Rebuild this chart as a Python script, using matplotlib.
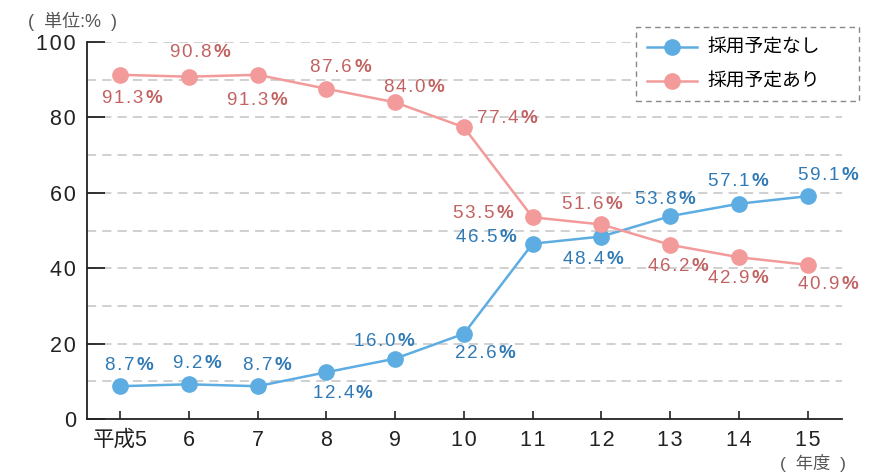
import matplotlib
matplotlib.use("Agg")
import matplotlib.pyplot as plt
from matplotlib.lines import Line2D
from matplotlib.patches import Rectangle

plt.rcParams['font.family'] = ['Liberation Sans', 'Noto Sans CJK JP', 'DejaVu Sans']

years = ['平成5', '6', '7', '8', '9', '10', '11', '12', '13', '14', '15']
no_plan = [8.7, 9.2, 8.7, 12.4, 16.0, 22.6, 46.5, 48.4, 53.8, 57.1, 59.1]
plan = [91.3, 90.8, 91.3, 87.6, 84.0, 77.4, 53.5, 51.6, 46.2, 42.9, 40.9]
series_names = ['採用予定なし', '採用予定あり']
y_ticks = [0, 20, 40, 60, 80, 100]

# label offsets in pixels (dx, dy) for label centre
no_plan_off = [(10, 21), (9, 21), (10, 21), (17, -21), (-10, 17), (22, -20),
               (-46, 6), (-8, -23), (-4, 17), (0, 22), (21, 21)]
plan_off = [(13, -24), (12, 24), (0, -26), (15, 21), (20, 15), (44, 9),
            (-49, 4), (-9, 20), (9, -22), (0, -21), (21, -20)]

blue_line = '#5dade2'
blue_text = '#2f79b5'
pink_line = '#f39a9a'
pink_text = '#c26262'
TS = '\u200a'


def spaced(s):
    return TS.join(s)


def sp_label(s):
    out = ''
    for i, ch in enumerate(s):
        if i > 0 and ch.isascii() and s[i - 1].isascii():
            out += TS
        out += ch
    return out


fig = plt.figure(figsize=(8.69, 4.74), dpi=100)
ax = fig.add_axes([87/869, 1-419/474, (842-87)/869, (419-42)/474])

x = list(range(len(years)))
ax.plot(x, no_plan, color=blue_line, lw=1.8, marker='o', ms=11, clip_on=False, zorder=3)
ax.plot(x, plan, color=pink_line, lw=1.8, marker='o', ms=11, clip_on=False, zorder=3)

FS = 13.5


def add_label(xi, v, dx, dy, color):
    t = ax.annotate(spaced(f"{v:.1f}"), (xi, v), xytext=(dx - 10, dy), textcoords='offset pixels',
                    ha='center', va='center', color=color, fontsize=FS, zorder=4)
    ax.annotate('%', xy=(1, 0.5), xycoords=t, xytext=(2, 0), textcoords='offset pixels',
                ha='left', va='center', color=color, fontsize=FS, fontweight='bold', zorder=4)


for xi, v, (dx, dy) in zip(x, no_plan, no_plan_off):
    add_label(xi, v, dx, dy, blue_text)
for xi, v, (dx, dy) in zip(x, plan, plan_off):
    add_label(xi, v, dx, dy, pink_text)

ax.set_xlim(-0.48, 10.5)
ax.set_ylim(0, 100)
ax.set_xticks(x)
ax.set_xticklabels([sp_label(s) for s in years])
ax.set_yticks(y_ticks)
ax.set_yticklabels([spaced(str(v)) for v in y_ticks])
for g in range(10, 101, 10):
    ax.axhline(g, color='#c4c4c4', lw=1.1, ls=(0, (6, 4)), zorder=1)

ax.spines['top'].set_visible(False)
ax.spines['right'].set_visible(False)
for s in ['left', 'bottom']:
    ax.spines[s].set_color('#222222')
    ax.spines[s].set_linewidth(1.3)
ax.tick_params(axis='y', direction='in', length=13, width=1.3, color='#222222',
               labelsize=15.5, labelcolor='#222222', pad=8)
ax.tick_params(axis='x', direction='in', length=6, width=1.2, color='#222222',
               labelsize=15.5, labelcolor='#222222', pad=8)

fig.text(28/869, 1-21/474, '(  単位:%  )', fontsize=13, color='#555555', va='center', ha='left')
fig.text(846/869, 1-463/474, '(  年度  )', fontsize=12.5, color='#555555', va='center', ha='right')

handles = [Line2D([0], [0], color=blue_line, lw=1.8, marker='o', ms=11),
           Line2D([0], [0], color=pink_line, lw=1.8, marker='o', ms=11)]
leg = fig.legend(handles, series_names, loc='center left',
                 bbox_to_anchor=(647/869, 1-65.5/474), frameon=False, fontsize=13.5,
                 handlelength=2.67, handletextpad=0.55, borderpad=0, labelspacing=0.9,
                 borderaxespad=0)
leg.set_zorder(5)
fig.patches.append(Rectangle((636/869, 1-101/474), (859-636)/869, (101-27)/474,
                             transform=fig.transFigure, fill=True, facecolor='white',
                             edgecolor='#888888', lw=1.0, ls=(0, (4, 3)), zorder=4))

fig.savefig('out.png', dpi=100)
